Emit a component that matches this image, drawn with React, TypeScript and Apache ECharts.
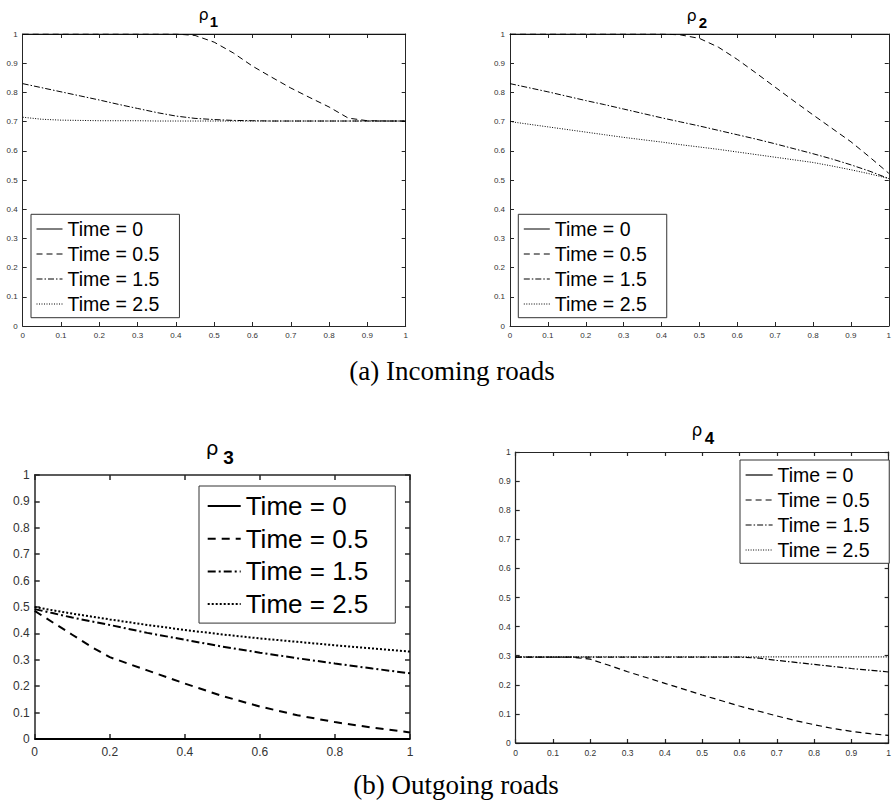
import React, { useEffect, useRef } from "react";
import * as echarts from "echarts";

// ---------- data ----------
const timeLabels = ["Time = 0", "Time = 0.5", "Time = 1.5", "Time = 2.5"];

const xFine = [0, 0.05, 0.1, 0.15, 0.2, 0.25, 0.3, 0.35, 0.4, 0.45, 0.5, 0.55, 0.6, 0.65, 0.7, 0.75, 0.8, 0.85, 0.9, 0.95, 1];
const xCoarse = [0, 0.05, 0.1, 0.15, 0.2, 0.3, 0.4, 0.5, 0.6, 0.7, 0.8, 0.9, 1];

// rho_1 (incoming road 1)
const rho1T0 = [1, 1, 1, 1, 1, 1, 1, 1, 1, 1, 1, 1, 1, 1, 1, 1, 1, 1, 1, 1, 1];
const rho1T05 = [1, 1, 1, 1, 1, 1, 1, 1, 1, 0.995, 0.972, 0.935, 0.89, 0.852, 0.815, 0.782, 0.75, 0.712, 0.703, 0.702, 0.702];
const rho1T15 = [0.83, 0.816, 0.802, 0.788, 0.774, 0.759, 0.745, 0.731, 0.719, 0.711, 0.707, 0.704, 0.703, 0.702, 0.702, 0.702, 0.702, 0.702, 0.702, 0.702, 0.702];
const rho1T25 = [0.715, 0.708, 0.705, 0.704, 0.703, 0.703, 0.703, 0.702, 0.702, 0.702, 0.702, 0.702, 0.702, 0.702, 0.702, 0.702, 0.702, 0.702, 0.702, 0.702, 0.702];

// rho_2 (incoming road 2)
const rho2T0 = [1, 1, 1, 1, 1, 1, 1, 1, 1, 1, 1, 1, 1, 1, 1, 1, 1, 1, 1, 1, 1];
const rho2T05 = [1, 1, 1, 1, 1, 1, 1, 1, 1, 0.997, 0.985, 0.955, 0.913, 0.866, 0.818, 0.77, 0.723, 0.677, 0.631, 0.578, 0.523];
const rho2T15 = [0.83, 0.816, 0.802, 0.787, 0.772, 0.758, 0.743, 0.728, 0.713, 0.699, 0.685, 0.67, 0.655, 0.64, 0.624, 0.607, 0.59, 0.572, 0.552, 0.53, 0.505];
const rho2T25 = [0.7, 0.691, 0.682, 0.673, 0.664, 0.655, 0.646, 0.638, 0.63, 0.621, 0.613, 0.605, 0.596, 0.587, 0.578, 0.569, 0.56, 0.548, 0.535, 0.521, 0.505];

// rho_3 (outgoing road 3)
const rho3T0 = [0, 0, 0, 0, 0, 0, 0, 0, 0, 0, 0, 0, 0];
const rho3T05 = [0.485, 0.44, 0.395, 0.35, 0.31, 0.26, 0.21, 0.163, 0.123, 0.09, 0.064, 0.043, 0.025];
const rho3T15 = [0.492, 0.476, 0.46, 0.446, 0.432, 0.402, 0.376, 0.35, 0.327, 0.306, 0.286, 0.267, 0.249];
const rho3T25 = [0.5, 0.487, 0.475, 0.464, 0.453, 0.432, 0.413, 0.396, 0.381, 0.368, 0.355, 0.343, 0.331];

// rho_4 (outgoing road 4)
const rho4T0 = [0, 0, 0, 0, 0, 0, 0, 0, 0, 0, 0, 0, 0, 0, 0, 0, 0, 0, 0, 0, 0];
const rho4T05 = [0.295, 0.295, 0.295, 0.295, 0.288, 0.267, 0.245, 0.225, 0.205, 0.185, 0.165, 0.146, 0.127, 0.11, 0.093, 0.077, 0.063, 0.05, 0.04, 0.032, 0.026];
const rho4T15 = [0.295, 0.295, 0.295, 0.295, 0.295, 0.295, 0.295, 0.295, 0.295, 0.295, 0.295, 0.295, 0.295, 0.292, 0.284, 0.277, 0.27, 0.263, 0.256, 0.25, 0.244];
const rho4T25 = [0.296, 0.296, 0.296, 0.296, 0.296, 0.296, 0.296, 0.296, 0.296, 0.296, 0.296, 0.296, 0.296, 0.296, 0.296, 0.296, 0.296, 0.296, 0.296, 0.296, 0.296];

const subscripts = ["1", "2", "3", "4"];
const captions = ["(a) Incoming roads", "(b) Outgoing roads"];

// ---------- layout / style ----------
const SANS = "'Liberation Sans', Arial, Helvetica, sans-serif";
const AXIS_COLOR = "#262626";

type PanelCfg = {
  x: number[];
  ys: number[][];
  grid: { left: number; top: number; width: number; height: number };
  xInterval: number;
  labelSize: number;
  tickLen: number;
  axisWidth: number;
  lineWidth: number;
  xMargin: number;
  yMargin: number;
  dashes: (string | number[])[];
  legend: {
    left: number;
    top: number;
    fontSize: number;
    lineHeight: number;
    itemGap: number;
    itemWidth: number;
    padding: number[];
  };
  title: { rx: number; ry: number; rSize: number; sx: number; sy: number; sSize: number };
};

const thinDash: (string | number[])[] = ["solid", [6, 4], [6, 2, 1.5, 2], [1, 1.5]];
const thickDash: (string | number[])[] = ["solid", [8, 6], [8, 3, 2, 3], [2, 2]];

const panels: PanelCfg[] = [
  {
    x: xFine,
    ys: [rho1T0, rho1T05, rho1T15, rho1T25],
    grid: { left: 22.7, top: 34, width: 383, height: 292 },
    xInterval: 0.1,
    labelSize: 8,
    tickLen: 4,
    axisWidth: 1,
    lineWidth: 1,
    xMargin: 5,
    yMargin: 5,
    dashes: thinDash,
    legend: { left: 31, top: 214.3, fontSize: 19.5, lineHeight: 20, itemGap: 5, itemWidth: 26, padding: [4.7, 20, 3.7, 5] },
    title: { rx: 203.5, ry: 14, rSize: 16, sx: 214, sy: 21.5, sSize: 15 },
  },
  {
    x: xFine,
    ys: [rho2T0, rho2T05, rho2T15, rho2T25],
    grid: { left: 510, top: 34, width: 383.3, height: 292 },
    xInterval: 0.1,
    labelSize: 8,
    tickLen: 4,
    axisWidth: 1,
    lineWidth: 1,
    xMargin: 5,
    yMargin: 5,
    dashes: thinDash,
    legend: { left: 518.3, top: 214.3, fontSize: 19.5, lineHeight: 20, itemGap: 5, itemWidth: 26, padding: [4.7, 20, 3.7, 5] },
    title: { rx: 691.5, ry: 15, rSize: 16, sx: 703, sy: 22, sSize: 15 },
  },
  {
    x: xCoarse,
    ys: [rho3T0, rho3T05, rho3T15, rho3T25],
    grid: { left: 34.7, top: 475, width: 375.3, height: 264 },
    xInterval: 0.2,
    labelSize: 12,
    tickLen: 5,
    axisWidth: 1.5,
    lineWidth: 2,
    xMargin: 7,
    yMargin: 5,
    dashes: thickDash,
    legend: { left: 199, top: 486, fontSize: 26, lineHeight: 27, itemGap: 5.7, itemWidth: 33, padding: [6.5, 27, 5.5, 7.7] },
    title: { rx: 212, ry: 448, rSize: 20, sx: 228.5, sy: 457, sSize: 19 },
  },
  {
    x: xFine,
    ys: [rho4T0, rho4T05, rho4T15, rho4T25],
    grid: { left: 515.7, top: 452, width: 382.6, height: 291 },
    xInterval: 0.1,
    labelSize: 8.5,
    tickLen: 4,
    axisWidth: 1.2,
    lineWidth: 1.2,
    xMargin: 5.5,
    yMargin: 5,
    dashes: thinDash,
    legend: { left: 740, top: 460, fontSize: 19.5, lineHeight: 20, itemGap: 5, itemWidth: 27, padding: [5, 19.7, 3.3, 5] },
    title: { rx: 697, ry: 429.5, rSize: 17, sx: 709.5, sy: 438.3, sSize: 17 },
  },
];

function buildOption() {
  const grid: any[] = [];
  const xAxis: any[] = [];
  const yAxis: any[] = [];
  const series: any[] = [];
  const legend: any[] = [];
  const graphic: any[] = [];

  panels.forEach((p, i) => {
    grid.push({ ...p.grid, containLabel: false });
    const lineStyle = { color: AXIS_COLOR, width: p.axisWidth };
    const common = {
      type: "value",
      min: 0,
      max: 1,
      gridIndex: i,
      splitLine: { show: false },
      axisLine: { show: true, onZero: false, lineStyle },
      axisTick: { show: true, inside: true, length: p.tickLen, lineStyle },
    };
    const labelStyle = { fontSize: p.labelSize, color: "#333", fontFamily: SANS };
    xAxis.push({ ...common, position: "bottom", interval: p.xInterval, axisLabel: { ...labelStyle, margin: p.xMargin } });
    xAxis.push({ ...common, position: "top", interval: p.xInterval, axisLabel: { show: false } });
    yAxis.push({ ...common, position: "left", interval: 0.1, axisLabel: { ...labelStyle, margin: p.yMargin } });
    yAxis.push({ ...common, position: "right", interval: 0.1, axisLabel: { show: false } });

    const names: string[] = [];
    p.ys.forEach((ys, k) => {
      const name = `p${i + 1}|${timeLabels[k]}`;
      names.push(name);
      series.push({
        type: "line",
        name,
        xAxisIndex: 2 * i,
        yAxisIndex: 2 * i,
        data: p.x.map((xv, j) => [xv, ys[j]]),
        symbol: "none",
        showSymbol: false,
        lineStyle: { color: "#000", width: p.lineWidth, type: p.dashes[k] },
        itemStyle: { color: "#000" },
        z: 2 + k,
      });
    });

    legend.push({
      orient: "vertical",
      left: p.legend.left,
      top: p.legend.top,
      data: names,
      formatter: (n: string) => n.split("|")[1],
      itemWidth: p.legend.itemWidth,
      itemHeight: 10,
      itemGap: p.legend.itemGap,
      padding: p.legend.padding,
      borderColor: "#333",
      borderWidth: 1,
      borderRadius: 0,
      backgroundColor: "#fff",
      selectedMode: false,
      itemStyle: { opacity: 0 },
      lineStyle: { width: p.lineWidth, color: "#000" },
      textStyle: { fontFamily: SANS, fontSize: p.legend.fontSize, lineHeight: p.legend.lineHeight, color: "#000" },
    });

    graphic.push({
      type: "text",
      x: p.title.rx,
      y: p.title.ry,
      style: { text: "ρ", fontSize: p.title.rSize, fontFamily: "'DejaVu Sans', sans-serif", fill: "#000", align: "center", verticalAlign: "middle" },
    });
    graphic.push({
      type: "text",
      x: p.title.sx,
      y: p.title.sy,
      style: { text: subscripts[i], fontSize: p.title.sSize, fontWeight: "bold", fontFamily: SANS, fill: "#000", align: "center", verticalAlign: "middle" },
    });
  });

  graphic.push({
    type: "text",
    x: 452,
    y: 371,
    style: { text: captions[0], fontSize: 27, fontFamily: "'Liberation Serif', 'Times New Roman', serif", fill: "#000", align: "center", verticalAlign: "middle" },
  });
  graphic.push({
    type: "text",
    x: 456,
    y: 785,
    style: { text: captions[1], fontSize: 27, fontFamily: "'Liberation Serif', 'Times New Roman', serif", fill: "#000", align: "center", verticalAlign: "middle" },
  });

  return {
    animation: false,
    backgroundColor: "#fff",
    grid,
    xAxis,
    yAxis,
    series,
    legend,
    graphic,
  };
}

export default function App() {
  const ref = useRef<HTMLDivElement>(null);
  useEffect(() => {
    if (!ref.current) return;
    const chart = echarts.init(ref.current, null, { renderer: "svg", width: 894, height: 802 });
    chart.setOption(buildOption() as any);
    return () => chart.dispose();
  }, []);
  return <div ref={ref} style={{ position: "absolute", left: 0, top: 0, width: 894, height: 802 }} />;
}
